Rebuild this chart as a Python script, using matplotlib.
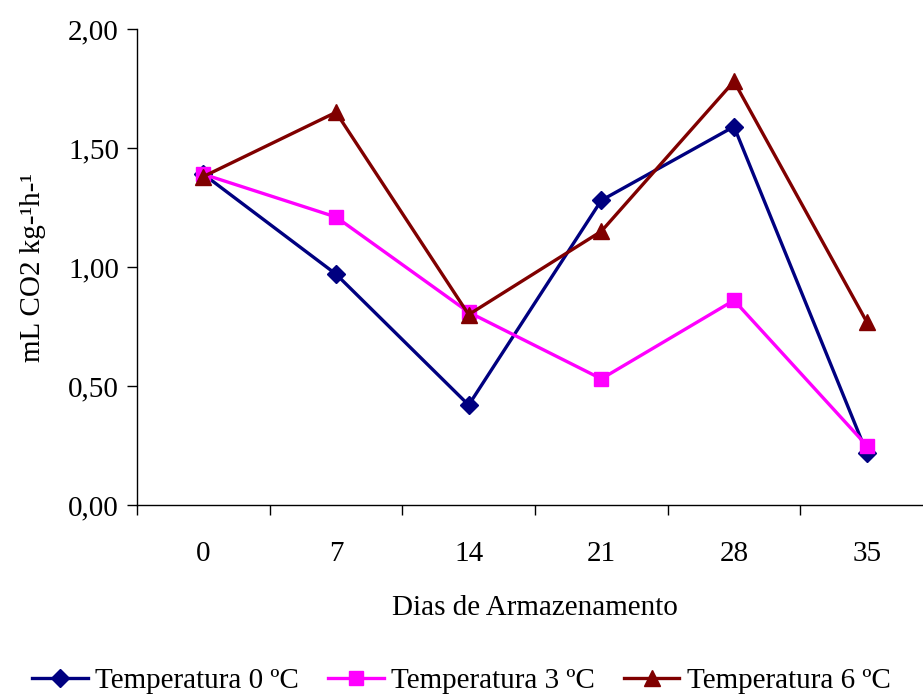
import matplotlib
matplotlib.use("Agg")
import matplotlib.pyplot as plt
from matplotlib.ticker import FixedLocator, FuncFormatter

dias = ["0", "7", "14", "21", "28", "35"]
temp0 = [1.39, 0.97, 0.42, 1.28, 1.59, 0.22]
temp3 = [1.39, 1.21, 0.81, 0.53, 0.86, 0.25]
temp6 = [1.38, 1.65, 0.80, 1.15, 1.78, 0.77]
yticks = [0.0, 0.5, 1.0, 1.5, 2.0]

plt.rcParams['font.family'] = ['Liberation Serif', 'DejaVu Serif']

fig = plt.figure(figsize=(9.23, 6.96), dpi=100)
ax = fig.add_axes([137/923, (696-505)/696, 796/923, 476/696])

x = list(range(len(dias)))
ax.plot(x, temp0, color='#000080', lw=2.4, marker='D', ms=9.5, label='Temperatura 0 ºC')
ax.plot(x, temp3, color='#FF00FF', lw=2.4, marker='s', ms=10, label='Temperatura 3 ºC')
ax.plot(x, temp6, color='#800000', lw=2.4, marker='^', ms=12, label='Temperatura 6 ºC')

ax.set_xlim(-0.5, 5.5)
ax.set_ylim(0, 2.0)
ax.set_yticks(yticks)
ax.yaxis.set_major_formatter(FuncFormatter(lambda v, p: f"{v:.2f}".replace('.', ',')))
ax.set_xticks(x)
ax.set_xticklabels(dias)
ax.xaxis.set_minor_locator(FixedLocator([i - 0.5 for i in range(len(dias) + 1)]))
ax.tick_params(axis='x', which='major', length=0, pad=26, labelsize=21)
ax.tick_params(axis='x', which='minor', length=7, width=1, direction='out')
ax.tick_params(axis='y', length=7, width=1, direction='out', labelsize=21, pad=6)

for s in ['top', 'right']:
    ax.spines[s].set_visible(False)
for s in ['left', 'bottom']:
    ax.spines[s].set_linewidth(1)

ax.set_xlabel('Dias de Armazenamento', fontsize=21, labelpad=20)
ax.set_ylabel('mL CO2 kg-¹h-¹', fontsize=21, labelpad=16)

fig.legend(loc='lower center', bbox_to_anchor=(0.5, -0.035), ncol=3, frameon=False,
           fontsize=21, handlelength=1.9, columnspacing=1.0, handletextpad=0.25)

fig.savefig('out.png', dpi=100)
